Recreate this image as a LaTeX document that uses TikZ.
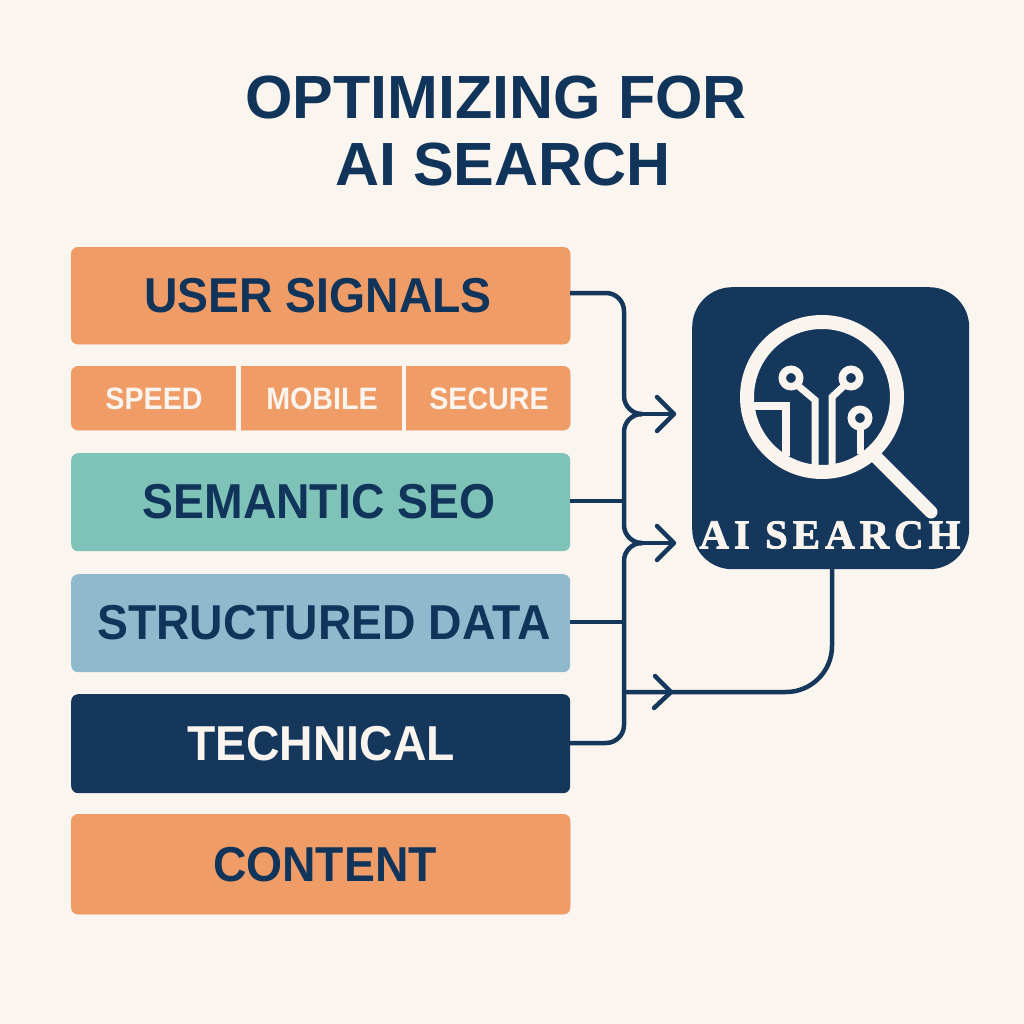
\documentclass[tikz,border=0pt]{standalone}
\usepackage{fontspec}
\setmainfont{Liberation Sans}
\newfontfamily\serifb[LetterSpace=12,FakeBold=2]{Liberation Serif}
\usetikzlibrary{calc}
\newcommand\narrowbig[1]{\scalebox{.945}[1]{#1}}
\newcommand\narrowsmall[1]{\scalebox{.925}[1]{#1}}
\definecolor{bgc}{HTML}{FAF5EF}
\definecolor{navy}{HTML}{15375C}
\definecolor{inkc}{HTML}{10345A}
\definecolor{orng}{HTML}{F09C66}
\definecolor{orngedge}{HTML}{EE9459}
\definecolor{teal2}{HTML}{7FC2B7}
\definecolor{blue2}{HTML}{8FBACD}
\definecolor{cream}{HTML}{F9F4EE}
\tikzset{
 boxbase/.style={rounded corners=7pt,anchor=north west,inner sep=0pt,align=center,minimum width=499pt},
 biglab/.style={text=inkc,inner sep=0pt,font=\bfseries\fontsize{49}{49}\selectfont},
 smalllab/.style={text=cream,inner sep=0pt,font=\bfseries\fontsize{31}{31}\selectfont},
 gap/.style={fill=bgc,draw=none,anchor=north west,inner sep=0pt,minimum height=66pt},
 wire/.style={draw=navy,line width=4.5pt,rounded corners=18pt},
 plainwire/.style={draw=navy,line width=4.5pt},
 chev/.style={draw=navy,line width=4.5pt,line cap=round,line join=round},
 lens/.style={draw=cream,line width=14pt},
 trace/.style={draw=cream,line width=7pt},
 ring/.style={draw=cream,line width=7.5pt},
 titlet/.style={text=inkc,inner sep=0pt,font=\bfseries\fontsize{61}{61}\selectfont}
}
\begin{document}
\begin{tikzpicture}[x=1pt,y=-1pt]
\useasboundingbox (0,0) rectangle (1024,1024);
\fill[bgc] (0,0) rectangle (1024,1024);
\node[titlet] (t1) at (496,98) {OPTIMIZING FOR};
\node[titlet] (t2) at (503,165) {AI SEARCH};
\node[boxbase,fill=orng,draw=orngedge,minimum height=97pt] (user) at (71,247) {};
\node[biglab] (userl) at (318,296) {\narrowbig{USER SIGNALS}};
\node[boxbase,fill=orng,draw=orngedge,minimum height=64pt] (bar) at (71,366) {};
\node[gap,minimum width=5pt] (g1) at (236,365) {};
\node[gap,minimum width=4pt] (g2) at (402,365) {};
\node[smalllab] (speed) at (154,399) {\narrowsmall{SPEED}};
\node[smalllab] (mobile) at (322,399) {\narrowsmall{MOBILE}};
\node[smalllab] (secure) at (489,399) {\narrowsmall{SECURE}};
\node[boxbase,fill=teal2,minimum height=98pt] (sem) at (71,453) {};
\node[biglab] (seml) at (319,502) {\narrowbig{SEMANTIC SEO}};
\node[boxbase,fill=blue2,minimum height=98pt] (str) at (71,574) {};
\node[biglab] (strl) at (324,623) {\narrowbig{STRUCTURED DATA}};
\node[boxbase,fill=navy,minimum height=99pt] (tech) at (71,694) {};
\node[biglab,text=cream] (techl) at (321,744) {\narrowbig{TECHNICAL}};
\node[boxbase,fill=orng,draw=orngedge,minimum height=100pt] (cont) at (71,814) {};
\node[biglab] (contl) at (325,865) {\narrowbig{CONTENT}};
\node[boxbase,fill=navy,minimum width=277pt,minimum height=282pt,rounded corners=40pt] (ai) at (692,287) {};
% magnifier
\draw[lens] (822,397) circle (75);
\draw[draw=cream,line width=13pt,line cap=round] (877,458) -- (931,512);
\draw[trace,line width=8pt] (754,406) -- (786,406) -- (786,456);
\draw[trace] (796,384) -- (815,400) -- (815,466);
\draw[trace] (846,384) -- (832,397) -- (832,466);
\draw[trace] (860,428) -- (860,454);
\draw[ring] (791,378) circle (8.7);
\draw[ring] (851,378) circle (8.7);
\draw[ring] (860,418) circle (8.7);
\node[text=cream,font=\serifb\bfseries\fontsize{41}{41}\selectfont,inner sep=0pt] (ailab) at (830,535) {AI SEARCH};
% connectors
\coordinate (j1) at (640,414);
\coordinate (j2) at (640,543);
\coordinate (tip1) at (674,414);
\coordinate (tip2) at (674,543);
\coordinate (tip3) at (671,692);
\coordinate (bus1) at (624,414);
\coordinate (bus2) at (624,543);
\coordinate (bus3) at (624,692);
\coordinate (bend) at (832,692);
\coordinate (aib) at (832,569);
\coordinate (us) at (570,293);
\coordinate (te) at (570,743);
\coordinate (se) at (570,501);
\coordinate (st) at (570,622);
\coordinate (seb) at (624,501);
\coordinate (stb) at (624,622);
\draw[wire] (us) -| (bus1) -- (j1);
\draw[wire] (j1) -- (bus1) |- (j2);
\draw[wire] (j2) -- (bus2) |- (te);
\draw[plainwire] (se) -- (seb);
\draw[plainwire] (st) -- (stb);
\draw[draw=navy,line width=4.5pt,rounded corners=46pt] (bus3) -- (bend) -- (aib);
\draw[plainwire] (j1) -- (tip1);
\draw[plainwire] (j2) -- (tip2);
\draw[chev] (657,397) -- (tip1) -- (657,431);
\draw[chev] (657,526) -- (tip2) -- (657,560);
\draw[chev] (655,676) -- (tip3) -- (654,708);
\end{tikzpicture}
\end{document}
